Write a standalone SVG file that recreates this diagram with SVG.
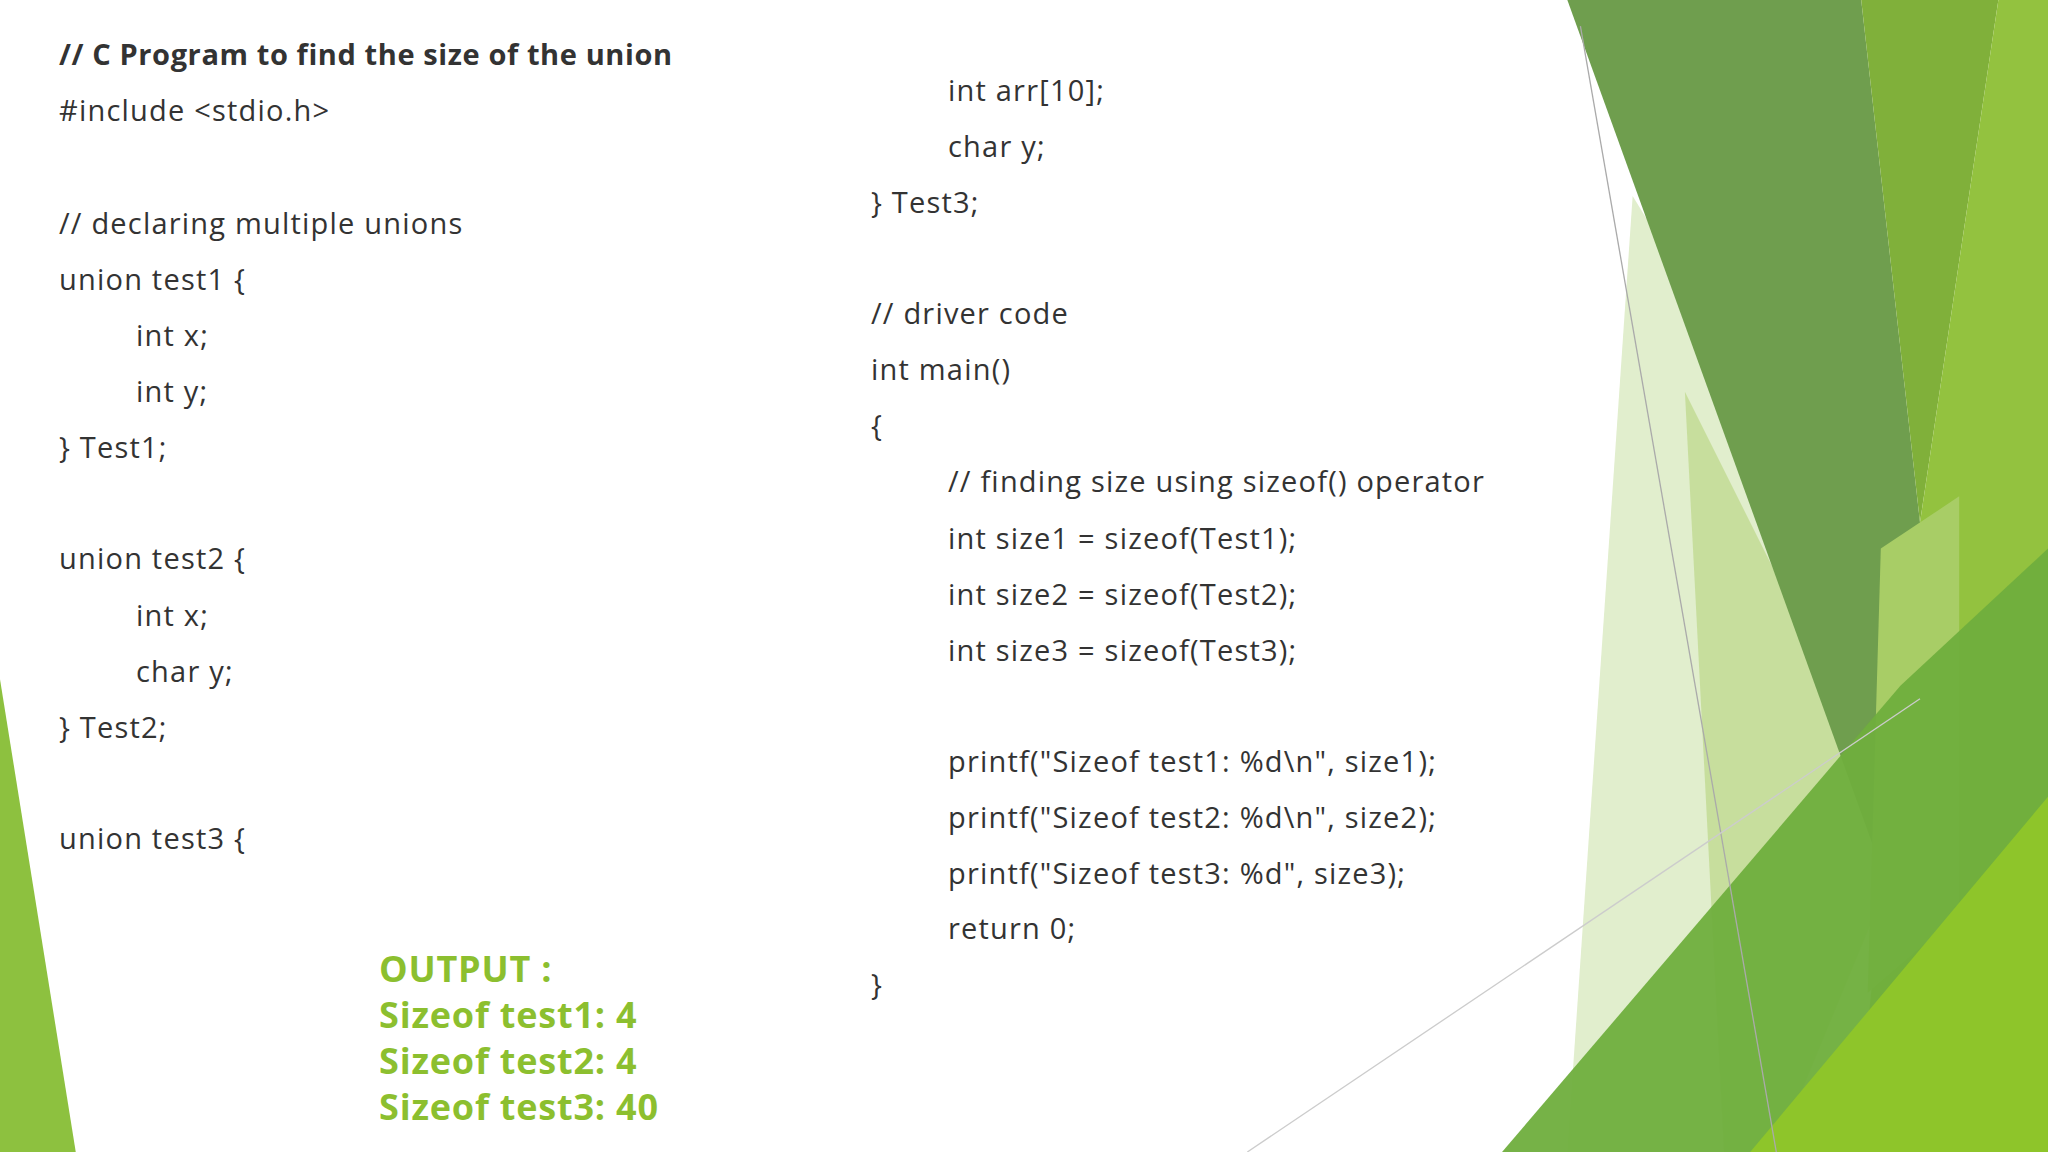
<svg xmlns="http://www.w3.org/2000/svg" width="2048" height="1152" viewBox="0 0 2048 1152">
<style>
.c{font-family:"Open Sans","DejaVu Sans",sans-serif;font-size:29px;fill:#333;letter-spacing:1.2px}
.b{font-weight:bold;letter-spacing:0.6px}
.o{font-family:"Open Sans","DejaVu Sans",sans-serif;font-size:36px;font-weight:bold;fill:#8cbf2f;letter-spacing:0.8px}
</style>
<rect width="2048" height="1152" fill="#fff"/>
<g id="decor" transform="scale(1.30612)">
<polygon points="0,520 58,882 0,882" fill="#8dc13f"/>
<polygon points="1250,150 1500,560 1500,882 1200,882" fill="#e1eecd"/>
<polygon points="1290,300 1460,640 1360,882 1320,882" fill="#c7de9d"/>
<polygon points="1200,0 1425,0 1470,400 1435,650" fill="#6f9e4e"/>
<polygon points="1425,0 1530,0 1470,400" fill="#80b03a"/>
<polygon points="1530,0 1568,0 1568,882 1420,882 1470,400" fill="#93c23f"/>
<polygon points="1440,420 1500,380 1500,700 1430,760" fill="#a8cd66"/>
<polygon points="1150,882 1455,525 1568,420 1568,882" fill="#6fae3d" opacity="0.95"/>
<polygon points="1340,882 1568,610 1568,882" fill="#8ec52a"/>
<line x1="1210" y1="20" x2="1360" y2="882" stroke="#aaa" stroke-width="1"/>
<line x1="955" y1="882" x2="1470" y2="535" stroke="#ccc" stroke-width="1"/>
</g>
<g id="left-code" class="c">
<text x="59" y="65" class="c b">// C Program to find the size of the union</text>
<text x="59" y="121">#include &lt;stdio.h&gt;</text>
<text x="59" y="234">// declaring multiple unions</text>
<text x="59" y="290">union test1 {</text>
<text x="136" y="346">int x;</text>
<text x="136" y="402">int y;</text>
<text x="59" y="458">} Test1;</text>
<text x="59" y="569">union test2 {</text>
<text x="136" y="626">int x;</text>
<text x="136" y="682">char y;</text>
<text x="59" y="738">} Test2;</text>
<text x="59" y="849">union test3 {</text>
</g>
<g id="right-code" class="c">
<text x="948" y="101">int arr[10];</text>
<text x="948" y="157">char y;</text>
<text x="871" y="213">} Test3;</text>
<text x="871" y="324">// driver code</text>
<text x="871" y="380">int main()</text>
<text x="871" y="436">{</text>
<text x="948" y="492">// finding size using sizeof() operator</text>
<text x="948" y="549">int size1 = sizeof(Test1);</text>
<text x="948" y="605">int size2 = sizeof(Test2);</text>
<text x="948" y="661">int size3 = sizeof(Test3);</text>
<text x="948" y="772">printf("Sizeof test1: %d\n", size1);</text>
<text x="948" y="828">printf("Sizeof test2: %d\n", size2);</text>
<text x="948" y="884">printf("Sizeof test3: %d", size3);</text>
<text x="948" y="939">return 0;</text>
<text x="871" y="995">}</text>
</g>
<g id="output" class="o">
<text x="379" y="982">OUTPUT :</text>
<text x="379" y="1028">Sizeof test1: 4</text>
<text x="379" y="1074">Sizeof test2: 4</text>
<text x="379" y="1120">Sizeof test3: 40</text>
</g>
</svg>
